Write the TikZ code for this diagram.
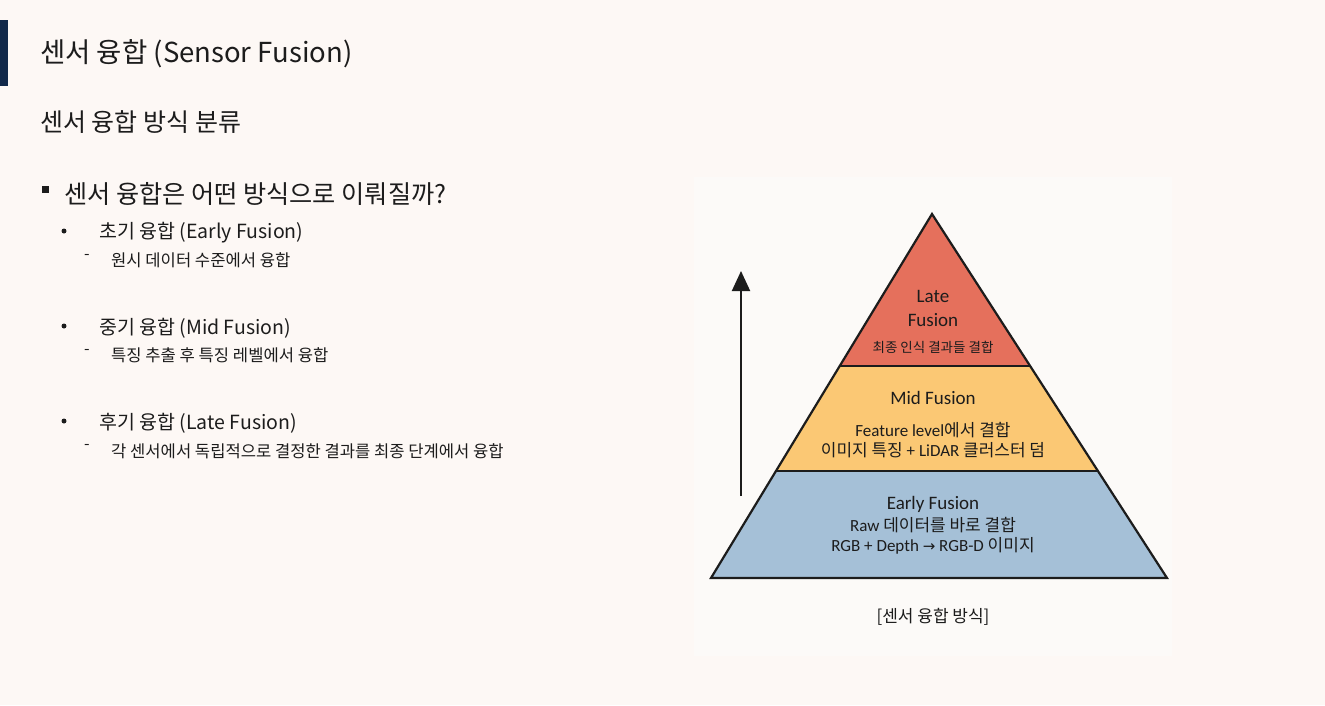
\documentclass[tikz,border=0pt]{standalone}
\usepackage{fontspec}
\setmainfont{Noto Sans CJK KR}
\newfontfamily\calfont{Carlito}
\newfontfamily\symfont{DejaVu Sans}
\usepackage{tikz}
\usetikzlibrary{arrows.meta,calc}
\definecolor{pagebg}{HTML}{FDF8F5}
\definecolor{panelbg}{HTML}{FCFAF8}
\definecolor{navybar}{HTML}{12294A}
\definecolor{inkblack}{HTML}{1C1C1C}
\definecolor{latered}{HTML}{E5705C}
\definecolor{midyellow}{HTML}{FBC874}
\definecolor{earlyblue}{HTML}{A5C0D7}
\newcommand\pxsize[1]{\fontsize{#1}{#1}\selectfont}

\begin{document}
\begin{tikzpicture}[x=1pt,y=-1pt]
\tikzstyle{every node}=[inner sep=0pt,text=inkblack];
\tikzstyle{heading}=[anchor=west,font=\pxsize{27.5}];
\tikzstyle{subhead}=[anchor=west,font=\pxsize{25}];
\tikzstyle{question}=[anchor=west,font=\pxsize{25.2}];
\tikzstyle{itemtext}=[anchor=west,font=\pxsize{19.5}];
\tikzstyle{subtext}=[anchor=west,font=\pxsize{16.6}];
\tikzstyle{squarebullet}=[rectangle,fill=inkblack,minimum size=7pt];
\tikzstyle{dotbullet}=[circle,fill=inkblack,minimum size=5pt];
\tikzstyle{dashmark}=[font=\pxsize{16}];
\tikzstyle{layertitle}=[font=\calfont\pxsize{19}];
\tikzstyle{layertext}=[font=\pxsize{17}];
\tikzstyle{pyline}=[draw=inkblack,line width=2.2pt,line join=miter];
\useasboundingbox (0,0) rectangle (1325,705);
\fill[pagebg] (0,0) rectangle (1325,705);
\fill[panelbg] (694,177) rectangle (1172,656);
\fill[navybar] (0,20) rectangle (8,86);

% slide text
\node[heading] (title) at (40,54) {센서 융합 (Sensor Fusion)};
\node[subhead] (subtitle) at (40,122) {센서 융합 방식 분류};
\node[squarebullet] (qbox) at (45,189) {};
\node[question] (question) at (64,194) {센서 융합은 어떤 방식으로 이뤄질까?};

\node[dotbullet] (earlydot) at (64,231) {};
\node[itemtext] (earlyitem) at (99,233) {초기 융합 (Early Fusion)};
\node[dashmark] (earlydash) at (87,257) {-};
\node[subtext] (earlynote) at (111,260) {원시 데이터 수준에서 융합};

\node[dotbullet] (middot) at (64,326) {};
\node[itemtext] (miditem) at (99,328) {중기 융합 (Mid Fusion)};
\node[dashmark] (middash) at (87,352) {-};
\node[subtext] (midnote) at (111,355) {특징 추출 후 특징 레벨에서 융합};

\node[dotbullet] (latedot) at (64,421) {};
\node[itemtext] (lateitem) at (99,423) {후기 융합 (Late Fusion)};
\node[dashmark] (latedash) at (87,447) {-};
\node[subtext] (latenote) at (111,451) {각 센서에서 독립적으로 결정한 결과를 최종 단계에서 융합};

% pyramid
\coordinate (apex) at (932,214);
\coordinate (baseL) at (711,578);
\coordinate (baseR) at (1167,578);
\coordinate (topL) at ($(apex)!0.4176!(baseL)$);
\coordinate (topR) at ($(apex)!0.4176!(baseR)$);
\coordinate (midL) at ($(apex)!0.706!(baseL)$);
\coordinate (midR) at ($(apex)!0.706!(baseR)$);
\fill[latered] (apex) -- (topR) -- (topL) -- cycle;
\fill[midyellow] (topL) -- (topR) -- (midR) -- (midL) -- cycle;
\fill[earlyblue] (midL) -- (midR) -- (baseR) -- (baseL) -- cycle;
\draw[pyline] (apex) -- (baseR) -- (baseL) -- cycle;
\draw[pyline] (topL) -- (topR);
\draw[pyline] (midL) -- (midR);

\node[layertitle] (lateA) at (933,296) {Late};
\node[layertitle] (lateB) at (933,320) {Fusion};
\node[font=\pxsize{13.5}] (latetext) at (933,347) {최종 인식 결과들 결합};

\node[layertitle] (midtitle) at (933,398) {Mid Fusion};
\node[layertext] (midtextA) at (933,430) {{\calfont Feature level}에서 결합};
\node[layertext] (midtextB) at (933,450) {이미지 특징 {\calfont + LiDAR} 클러스터 덤};

\node[layertitle] (earlytitle) at (933,504) {Early Fusion};
\node[layertext] (earlytextA) at (933,525) {{\calfont Raw} 데이터를 바로 결합};
\node[layertext] (earlytextB) at (933,546) {{\calfont RGB + Depth {\symfont\pxsize{15}→} RGB-D} 이미지};

% arrow
\coordinate (arrowfoot) at (741,496);
\coordinate (arrowtip) at (741,271);
\draw[inkblack,line width=2pt,-{Triangle[width=18pt,length=20pt]}] (arrowfoot) -- (arrowtip);

\node[font=\pxsize{17}] (caption) at (933,617) {[센서 융합 방식]};
\end{tikzpicture}
\end{document}
